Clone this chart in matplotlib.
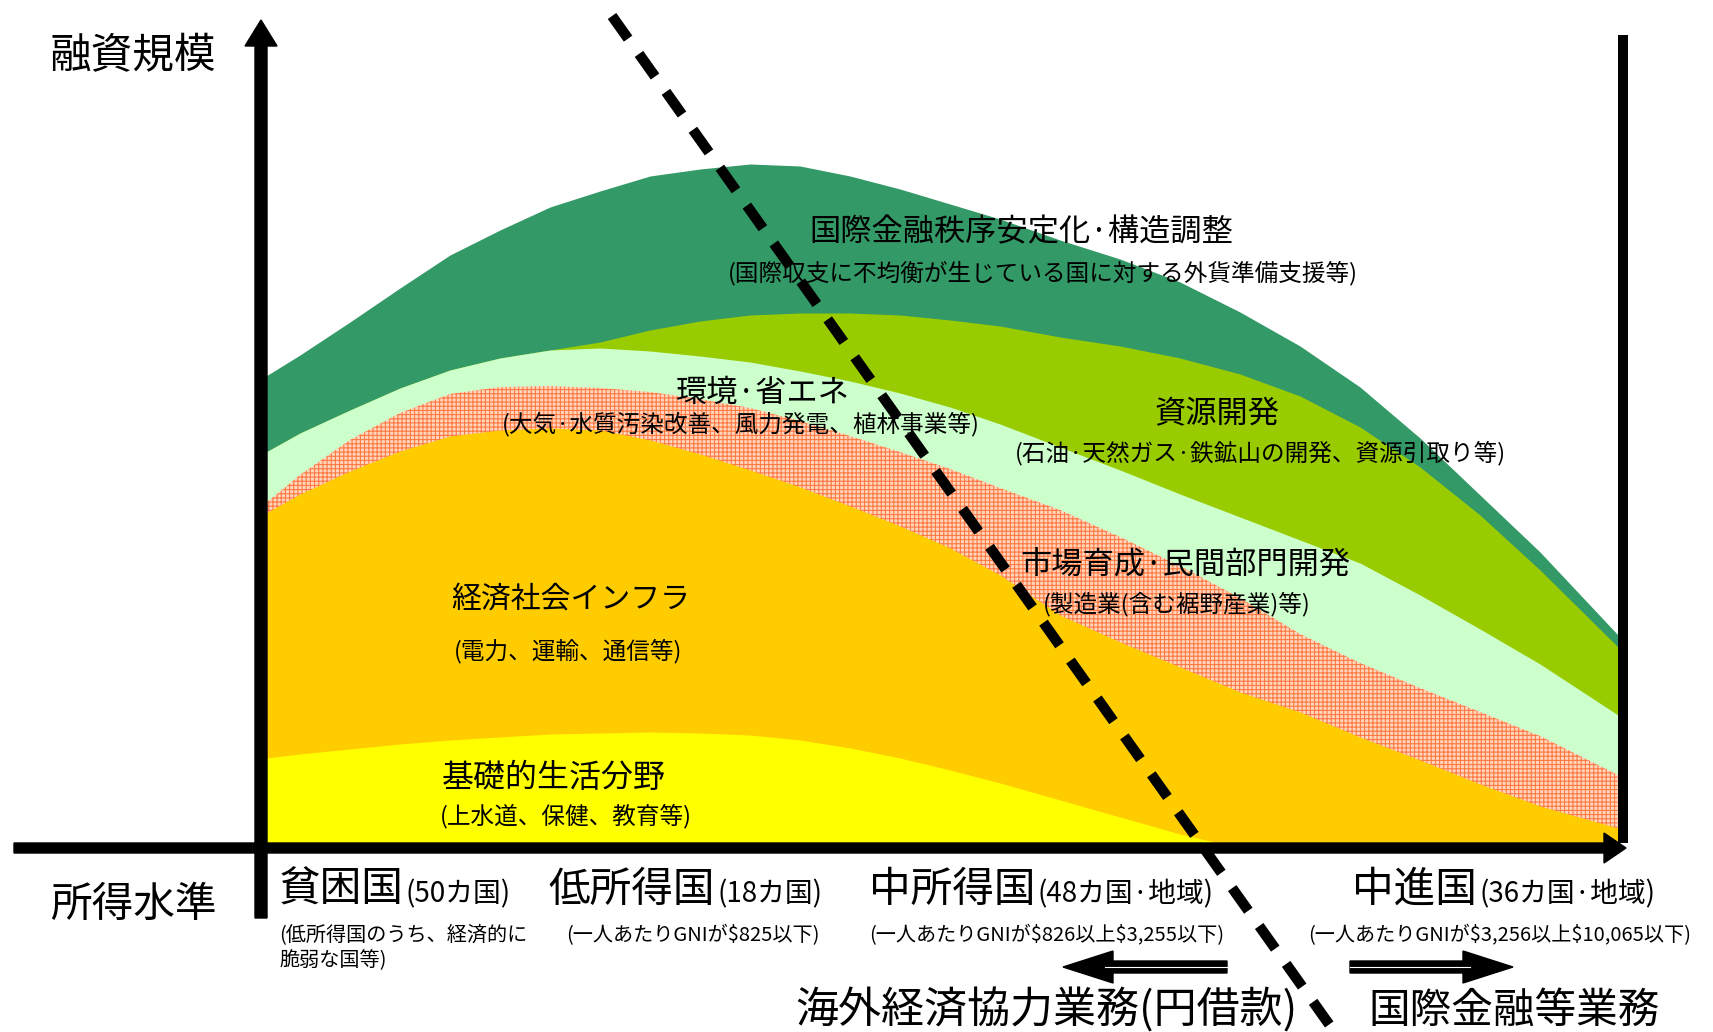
import numpy as np
import matplotlib.pyplot as plt
from matplotlib.patches import FancyArrow

plt.rcParams['font.family'] = ['Noto Sans CJK JP', 'DejaVu Sans']
plt.rcParams['lines.scale_dashes'] = False
plt.rcParams['hatch.linewidth'] = 0.8

# picture coordinates (px), y grows downwards
x = [266, 300, 350, 400, 450, 500, 550, 600, 650, 700, 750, 800, 850, 900,
     950, 1000, 1060, 1120, 1180, 1240, 1300, 1360, 1420, 1480, 1540, 1618]

# upper edge of each band
intl_finance = [376, 355, 322, 288, 255, 230, 207, 191, 176, 169, 164, 166, 176, 189,
                204, 219, 240, 259, 282, 312, 346, 387, 438, 495, 552, 635]
resources = [452, 433, 410, 388, 370, 358, 350, 342, 330, 321, 315, 313, 313, 315,
             320, 326, 337, 346, 358, 374, 396, 427, 467, 515, 570, 647]
environment = [452, 433, 410, 388, 370, 358, 350, 348, 351, 356, 362, 371, 381, 393,
               407, 424, 447, 470, 494, 517, 540, 563, 595, 629, 664, 715]
private_sector = [503, 475, 440, 413, 394, 387, 386, 388, 392, 399, 408, 421, 436, 452,
                  469, 488, 510, 537, 566, 598, 634, 663, 688, 712, 736, 775]
infrastructure = [513, 494, 471, 451, 436, 430, 428, 430, 440, 454, 470, 487, 506, 526,
                  548, 575, 615, 642, 667, 692, 712, 737, 760, 784, 806, 828]
basic_needs = [758, 754, 749, 744, 740, 737, 734, 733, 732, 733, 735, 740, 748, 758,
               770, 783, 800, 817, 834, 848, 848, 848, 848, 848, 848, 848]
baseline = 848

bands = [
    (intl_finance, '#339966', None),
    (resources, '#99CC00', None),
    (environment, '#CCFFCC', None),
    (private_sector, '#FFD6BC', '++++'),
    (infrastructure, '#FFCC00', None),
    (basic_needs, '#FFFF00', None),
]

band_labels = [
    ('国際金融秩序安定化·構造調整', 1021, 232, 22.5),
    ('(国際収支に不均衡が生じている国に対する外貨準備支援等)', 1043, 273, 17),
    ('環境·省エネ', 763, 393, 22.5),
    ('(大気·水質汚染改善、風力発電、植林事業等)', 741, 424, 17),
    ('資源開発', 1217, 413, 22.5),
    ('(石油·天然ガス·鉄鉱山の開発、資源引取り等)', 1260, 453, 17),
    ('市場育成·民間部門開発', 1185, 565, 22.5),
    ('(製造業(含む裾野産業)等)', 1177, 604, 17),
    ('経済社会インフラ', 571, 599, 21.5),
    ('(電力、運輸、通信等)', 568, 651, 17),
    ('基礎的生活分野', 554, 778, 23),
    ('(上水道、保健、教育等)', 566, 816, 17),
]

income_groups = ['貧困国', '低所得国', '中所得国', '中進国']
group_counts = ['(50カ国)', '(18カ国)', '(48カ国·地域)', '(36カ国·地域)']
group_x = [279, 548, 869, 1352]
count_x = [406, 718, 1038, 1480]
group_notes = ['(低所得国のうち、経済的に\n脆弱な国等)',
               '(一人あたりGNIが$825以下)',
               '(一人あたりGNIが$826以上$3,255以下)',
               '(一人あたりGNIが$3,256以上$10,065以下)']
note_x = [279, 566, 869, 1308]

divider_x = [612, 1331]
divider_y = [16, 1027]

fig = plt.figure(figsize=(17.13, 10.32), dpi=100)
ax = fig.add_axes([0, 0, 1, 1])
ax.set_xlim(0, 1713)
ax.set_ylim(1032, 0)
ax.axis('off')

for top, color, hatch in bands:
    top = np.array(top, dtype=float)
    if hatch:
        ax.fill_between(x, top, baseline, facecolor=color, edgecolor='#FF7A45',
                        hatch=hatch, linewidth=0)
    else:
        ax.fill_between(x, top, baseline, color=color, linewidth=0)

for text, tx, ty, size in band_labels:
    ax.text(tx, ty, text, fontsize=size, ha='center', va='center')

# axes
ax.add_patch(FancyArrow(261, 918, 0, -898, width=12, head_width=32, head_length=26,
                        length_includes_head=True, color='black'))
ax.add_patch(FancyArrow(14, 848, 1612, 0, width=10, head_width=30, head_length=22,
                        length_includes_head=True, color='black'))
ax.plot([1623, 1623], [35, 843], color='black', lw=7.2, solid_capstyle='butt')

ax.text(133, 57, '融資規模', fontsize=30, ha='center', va='center')
ax.text(133, 905, '所得水準', fontsize=30, ha='center', va='center')

for name, cnt, gx, cx in zip(income_groups, group_counts, group_x, count_x):
    ax.text(gx, 890, name, fontsize=30, ha='left', va='center')
    ax.text(cx, 894, cnt, fontsize=20, ha='left', va='center')

for note, nx in zip(group_notes, note_x):
    ax.text(nx, 925, note, fontsize=14.5, ha='left', va='top', linespacing=1.25,
            parse_math=False)

# boundary between the two business areas
ax.plot(divider_x, divider_y, color='black', lw=7.5, dashes=(20, 13.5),
        solid_capstyle='butt', dash_capstyle='butt')

# business arrows
ax.add_patch(FancyArrow(1227, 967, -164, 0, width=12, head_width=32, head_length=50,
                        length_includes_head=True, color='black'))
ax.plot([1105, 1227], [967, 967], color='white', lw=0.8)
ax.add_patch(FancyArrow(1350, 967, 163, 0, width=12, head_width=32, head_length=50,
                        length_includes_head=True, color='black'))
ax.plot([1350, 1470], [967, 967], color='white', lw=0.8)

ax.text(1046, 1011, '海外経済協力業務(円借款)', fontsize=31, ha='center', va='center')
ax.text(1514, 1011, '国際金融等業務', fontsize=30, ha='center', va='center')

fig.savefig('out.png', dpi=100)
